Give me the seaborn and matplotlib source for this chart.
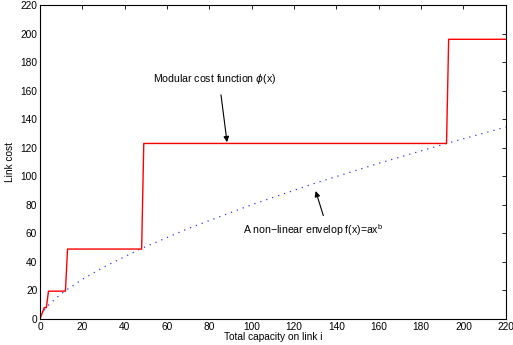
import numpy as np
import pandas as pd
import matplotlib
matplotlib.use("Agg")
import matplotlib.pyplot as plt
import seaborn as sns

# Modular (step) cost function
step_x = [0, 2, 3, 4, 12, 13, 48, 49, 192, 193, 220]
step_y = [0, 8, 8, 19.5, 19.5, 49, 49, 123, 123, 196, 196]

# Non-linear envelope points
env_x = [2, 4, 8, 12, 20, 30, 48, 70, 100, 130, 160, 192, 220]
env_y = [6.1, 9.7, 15.2, 19.9, 27.8, 36.3, 49.5, 63.4, 80.1, 95.2, 109.1, 123, 134.5]

x_ticks = list(range(0, 221, 20))
y_ticks = list(range(0, 221, 20))

sns.set_style("white")
plt.rcParams['font.family'] = ['Liberation Sans', 'DejaVu Sans']
plt.rcParams['xtick.direction'] = 'in'
plt.rcParams['ytick.direction'] = 'in'
plt.rcParams['text.color'] = 'black'
plt.rcParams['axes.labelcolor'] = 'black'
plt.rcParams['xtick.color'] = 'black'
plt.rcParams['ytick.color'] = 'black'

fig = plt.figure(figsize=(5.13, 3.45), dpi=100)
ax = fig.add_axes([0.078, 0.0754, 0.908, 0.910])

steps = pd.DataFrame({'x': step_x, 'y': step_y})
env = pd.DataFrame({'x': env_x, 'y': env_y})

sns.lineplot(data=env, x='x', y='y', ax=ax, color='#3333ff',
             linestyle=(0, (1, 4)), linewidth=0.9, sort=False)
sns.lineplot(data=steps, x='x', y='y', ax=ax, color='red', linewidth=1.0,
             sort=False)

ax.set_xlim(0, 220)
ax.set_ylim(0, 220)
ax.set_xticks(x_ticks)
ax.set_yticks(y_ticks)
ax.tick_params(labelsize=7.3, length=3, width=0.6, top=True, right=True,
               pad=2)
for s in ax.spines.values():
    s.set_visible(True)
    s.set_linewidth(0.8)
    s.set_color('black')

ax.set_xlabel('Total capacity on link i', fontsize=7.3, labelpad=0)
ax.set_ylabel('Link cost', fontsize=7.3, labelpad=4)

ax.annotate('', xy=(88.5, 122), xytext=(85.3, 159),
            arrowprops=dict(arrowstyle='-|>', color='black', lw=0.8,
                            mutation_scale=8))
ax.text(53.4, 168, r'Modular cost function $\phi$(x)', fontsize=7.6,
        va='center', ha='left')

ax.annotate('', xy=(129.8, 91.5), xytext=(134.2, 70.6),
            arrowprops=dict(arrowstyle='-|>', color='black', lw=0.8,
                            mutation_scale=8))
ax.text(95.8, 62.4, 'A non\u2212linear envelop f(x)=ax$^{\\mathregular{b}}$',
        fontsize=7.6, va='center', ha='left')

fig.savefig('out.png', dpi=100)
